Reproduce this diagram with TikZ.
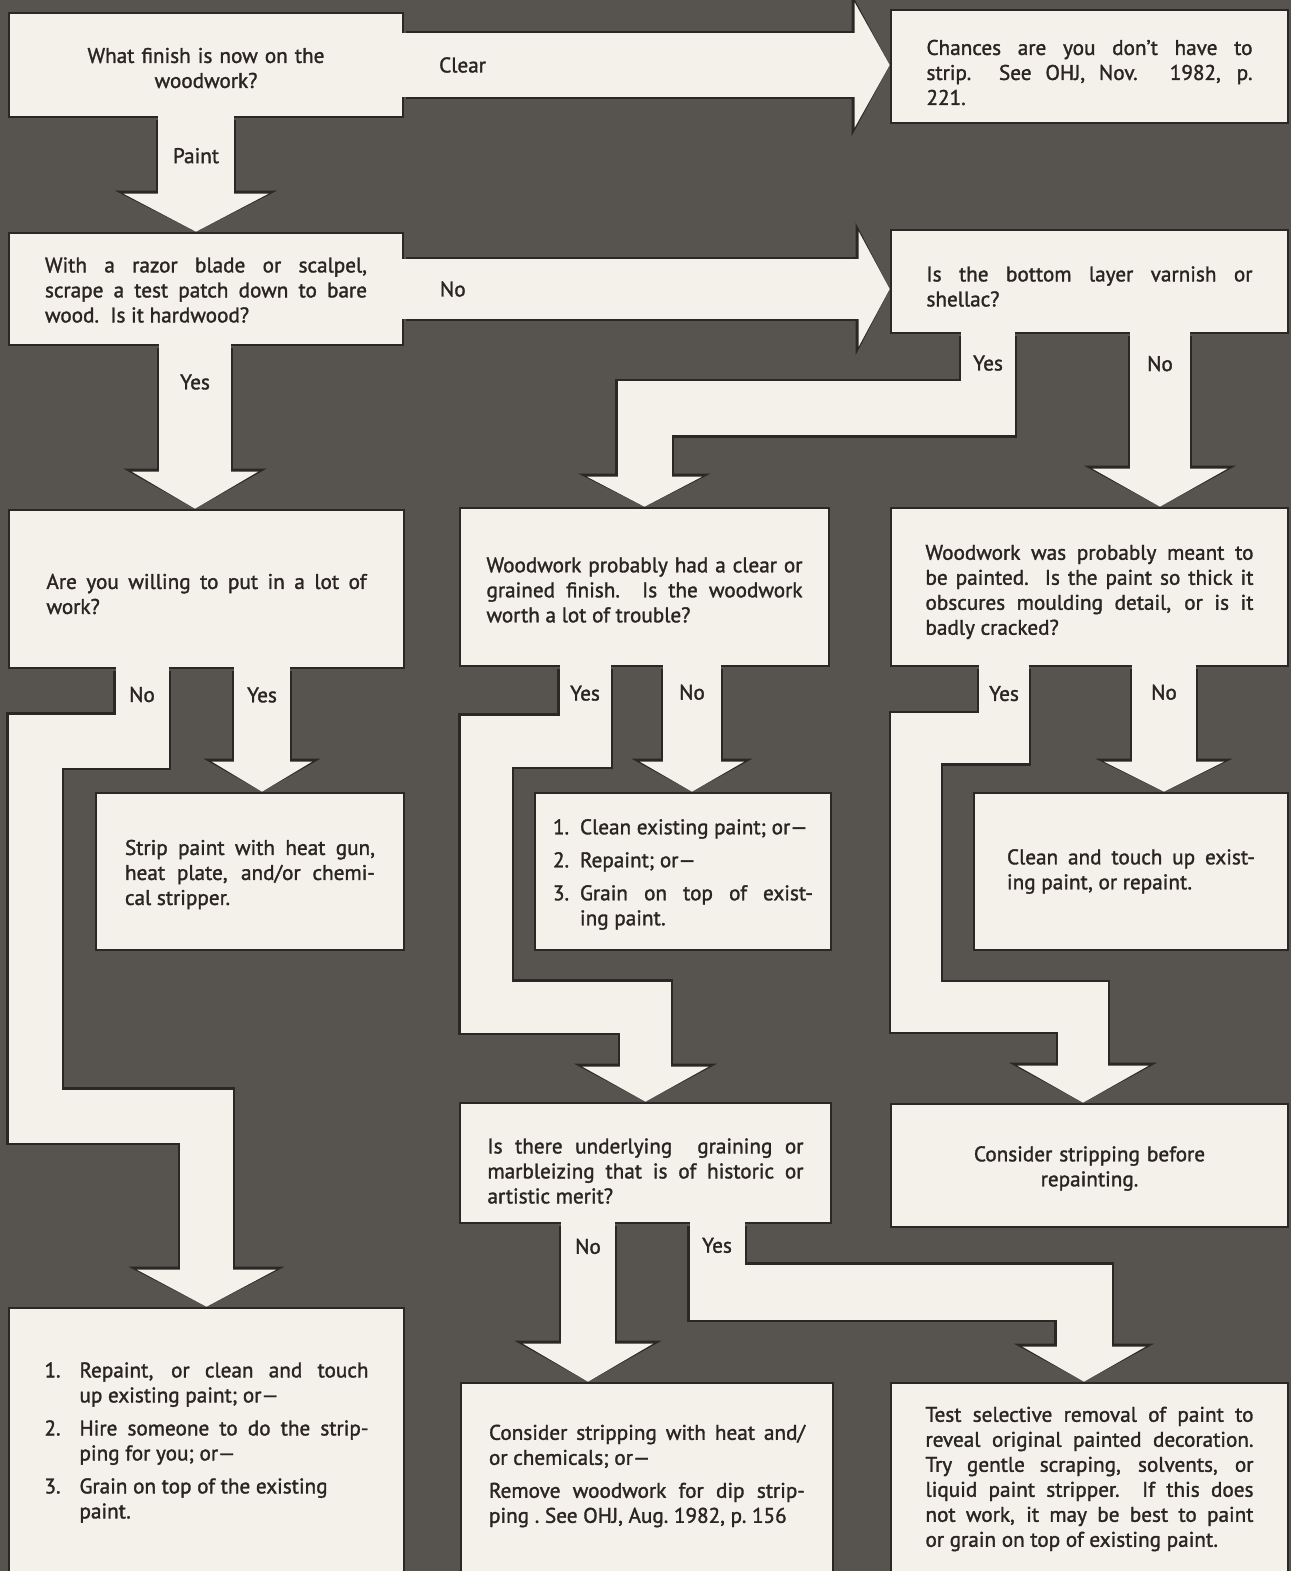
\documentclass[tikz,border=0pt]{standalone}
\usepackage{fontspec}
\setmainfont{PT Sans}[FakeBold=1.5]
\usetikzlibrary{arrows.meta}

\definecolor{bg}{HTML}{57544F}
\definecolor{paper}{HTML}{F3F1EA}
\definecolor{rim}{HTML}{2B2725}
\definecolor{ink}{HTML}{2A2522}

% numbered item with hanging indent
\newcommand{\itm}[2][15pt]{\par\noindent\hangindent=#1\hangafter=1\makebox[#1][l]{#2}\ignorespaces}
\newcommand{\boxdrop}{0pt}

\tikzset{
  boxq/.style={draw=rim, fill=paper, line width=1.3pt, text=ink, inner sep=0pt, align=justify,
    font=\fontsize{10.6}{12.5}\selectfont, drop=0pt,
    execute at begin node={\setlength{\parskip}{4pt}},
    execute at end node={\par\vspace{-\boxdrop}}},
  drop/.code={\def\boxdrop{#1}},
  lbl/.style={text=ink, inner sep=0pt, font=\fontsize{10.6}{12.5}\selectfont},
  flow/.style n args={3}{draw=paper, line width=#1, line join=miter, shorten <=-1.5pt,
    -{Triangle[width=#2, length=#3, line width=0pt]},
    /utils/exec={\pgfmathsetlengthmacro\rimw{#2+8.5pt}\pgfmathsetlengthmacro\riml{#3+1.5pt}},
    preaction={draw=rim, line width=#1+2.4pt, shorten <=0.7pt,
      -{Triangle[width=\rimw, length=\riml, line width=0pt]}}},
}

\begin{document}
\begin{tikzpicture}[x=0.5pt, y=-0.5pt]
        \useasboundingbox (0,0) rectangle (1291,1571);
        \fill[bg] (0,0) rectangle (1291,1571);

        % Boxes
        \node[boxq, minimum width=197pt, minimum height=52pt, text width=130pt, align=center, drop=3pt] (qfinish) at (206,65) {What finish is now on the\\ woodwork?};
        \node[boxq, minimum width=198.5pt, minimum height=56.5pt, text width=163pt, drop=6pt] (chances) at (1089.5,66.5) {Chances are you don't have to\linebreak strip.\ \ See OHJ, Nov. 1982, p.\linebreak 221.};
        \node[boxq, minimum width=197pt, minimum height=56pt, text width=161pt, drop=1pt] (qhard) at (206,289) {With a razor blade or scalpel,\linebreak scrape a test patch down to bare\linebreak wood.\ \ Is it hardwood?};
        \node[boxq, minimum width=198.5pt, minimum height=51.5pt, text width=163pt, drop=5pt] (qvarnish) at (1089.5,281.5) {Is the bottom layer varnish or\linebreak shellac?};
        \node[boxq, minimum width=197.5pt, minimum height=79pt, text width=160pt, drop=5pt] (qwork) at (206.5,589) {Are you willing to put in a lot of\linebreak work?};
        \node[boxq, minimum width=184.5pt, minimum height=79pt, text width=158pt, drop=3pt] (qclear) at (644.5,587) {Woodwork probably had a clear or\linebreak grained finish.\ \ Is the woodwork\linebreak worth a lot of trouble?};
        \node[boxq, minimum width=198.5pt, minimum height=79pt, text width=164pt, drop=5pt] (qpainted) at (1089.5,587) {Woodwork was probably meant to\linebreak be painted.\ \ Is the paint so thick it\linebreak obscures moulding detail, or is it\linebreak badly cracked?};
        \node[boxq, minimum width=154pt, minimum height=78.5pt, text width=125pt, drop=3pt] (strip) at (250,871.5) {Strip paint with heat gun,\linebreak heat plate, and/or chemi-\linebreak cal stripper.};
        \node[boxq, minimum width=148pt, minimum height=78.5pt, text width=130pt, drop=-6pt] (cleanlist) at (683,871.5) {\itm[13.5pt]{1.}Clean existing paint; or---\itm[13.5pt]{2.}Repaint; or---\itm[13.5pt]{3.}Grain on top of exist-\linebreak ing paint.\par};
        \node[boxq, minimum width=157pt, minimum height=78.5pt, text width=124pt] (touchup) at (1131,871.5) {Clean and touch up exist-\linebreak ing paint, or repaint.};
        \node[boxq, minimum width=185.5pt, minimum height=60pt, text width=158pt, drop=8pt] (qgrain) at (645.5,1163) {Is there underlying\ \ graining or\linebreak marbleizing that is of historic or\linebreak artistic merit?};
        \node[boxq, minimum width=198.5pt, minimum height=61.5pt, text width=130pt, align=center, drop=3pt] (consider) at (1089.5,1165.5) {Consider stripping before\\ repainting.};
        \node[boxq, minimum width=197.5pt, minimum height=133.5pt, text width=162pt, drop=-8pt] (hire) at (206.5,1441.5) {\itm[17.5pt]{1.}Repaint, or clean and touch\linebreak up existing paint; or---\itm[17.5pt]{2.}Hire someone to do the strip-\linebreak ping for you; or---\itm[17.5pt]{3.}Grain on top of the existing\newline paint.\par};
        \node[boxq, minimum width=186pt, minimum height=96pt, text width=158pt, drop=-3pt] (dip) at (647,1479) {Consider stripping with heat and/\linebreak or chemicals; or---\par Remove woodwork for dip strip-\linebreak ping .\ See OHJ, Aug.\ 1982, p.\ 156};
        \node[boxq, minimum width=198.5pt, minimum height=96pt, text width=164pt] (gentle) at (1089.5,1479) {Test selective removal of paint to\linebreak reveal original painted decoration.\linebreak Try gentle scraping, solvents, or\linebreak liquid paint stripper.\ \ If this does\linebreak not work, it may be best to paint\linebreak or grain on top of existing paint.};

        % Arrows
        \draw[flow={32pt}{62.5pt}{17.5pt}] (qfinish.east) -- node[lbl, pos=0.12] {Clear} (qfinish.east -| chances.west);
        \draw[flow={38pt}{72.5pt}{19pt}] (qfinish.south -| 196,0) -- node[lbl, pos=0.33] {Paint} (qhard.north -| 196,0);
        \draw[flow={30pt}{57.5pt}{15.5pt}] (qhard.east) -- node[lbl, pos=0.1] {No} (qhard.east -| qvarnish.west);
        \draw[flow={36pt}{63pt}{18.5pt}] (qhard.south -| 195,0) -- node[lbl, pos=0.22] {Yes} (qwork.north -| 195,0);
        \draw[flow={27pt}{57.5pt}{15pt}] (qvarnish.south -| 988,0) -- node[lbl, pos=0.39] {Yes} ++(0,74) -| (qclear.north);
        \draw[flow={30pt}{67.5pt}{19pt}] (qvarnish.south -| 1160,0) -- node[lbl, pos=0.17] {No} (qpainted.north -| 1160,0);
        \draw[flow={26.5pt}{69.5pt}{18.5pt}] (qwork.south -| 142,0) -- node[lbl, pos=0.35] {No} ++(0,72) -| (35,1116) -| (hire.north);
        \draw[flow={28pt}{50pt}{15pt}] (qwork.south -| 262,0) -- node[lbl, pos=0.21] {Yes} (strip.north -| 262,0);
        \draw[flow={25.5pt}{63pt}{17.5pt}] (qclear.south -| 585,0) -- node[lbl, pos=0.35] {Yes} ++(0,74) -| (486,1007) -| (qgrain.north);
        \draw[flow={29pt}{52pt}{15pt}] (qclear.south -| 692,0) -- node[lbl, pos=0.2] {No} (cleanlist.north -| 692,0);
        \draw[flow={25pt}{65.5pt}{18.5pt}] (qpainted.south -| 1004,0) -- node[lbl, pos=0.37] {Yes} ++(0,71) -| (916,1007) -| (consider.north -| 1083,0);
        \draw[flow={32pt}{60pt}{15pt}] (qpainted.south -| 1164,0) -- node[lbl, pos=0.2] {No} (touchup.north -| 1164,0);
        \draw[flow={27pt}{65pt}{19pt}] (qgrain.south -| 588,0) -- node[lbl, pos=0.14] {No} (dip.north -| 588,0);
        \draw[flow={27.5pt}{61.5pt}{17.5pt}] (qgrain.south -| 717,0) -- node[lbl, pos=0.31] {Yes} ++(0,68) -| (gentle.north -| 1084,0);

    \end{tikzpicture}
\end{document}
